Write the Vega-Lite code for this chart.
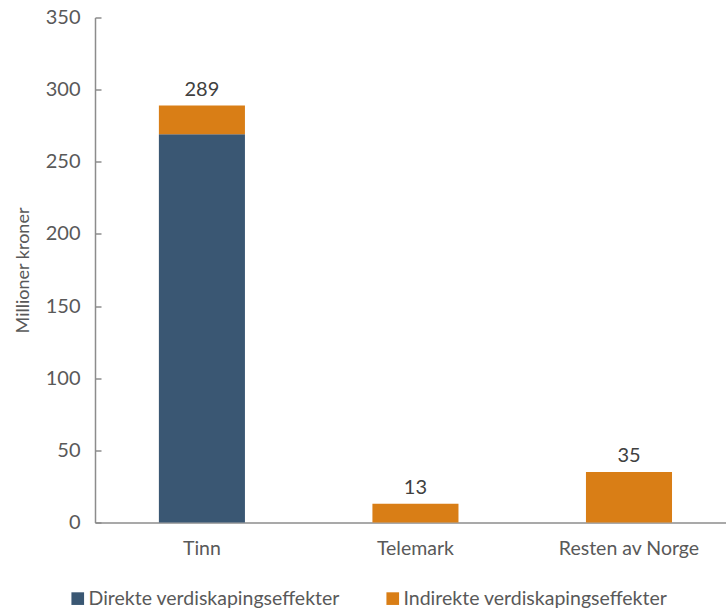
{
  "$schema": "https://vega.github.io/schema/vega-lite/v6.json",
  "width": 631,
  "height": 505,
  "autosize": {"type": "none"},
  "padding": {"left": 95, "top": 17.5, "right": 0, "bottom": 87.5},
  "background": "white",
  "config": {
    "view": {"stroke": null},
    "font": "Lato",
    "axis": {
      "labelColor": "#595959",
      "titleColor": "#595959",
      "domainColor": "#8c8c8c",
      "tickColor": "#8c8c8c",
      "domainWidth": 1.5,
      "tickWidth": 1.5,
      "grid": false,
      "labelFont": "Lato",
      "titleFont": "Lato",
      "titleFontWeight": "normal"
    }
  },
  "data": {
    "values": [
      {"region": "Tinn", "effect": "Direkte verdiskapingseffekter", "value": 269},
      {"region": "Tinn", "effect": "Indirekte verdiskapingseffekter", "value": 20},
      {"region": "Telemark", "effect": "Indirekte verdiskapingseffekter", "value": 13},
      {"region": "Resten av Norge", "effect": "Indirekte verdiskapingseffekter", "value": 35}
    ]
  },
  "layer": [
    {
      "mark": {"type": "bar"},
      "encoding": {
        "x": {
          "field": "region",
          "type": "nominal",
          "sort": ["Tinn", "Telemark", "Resten av Norge"],
          "scale": {"paddingInner": 0.597, "paddingOuter": 0.276, "align": 0.542},
          "axis": {
            "title": null,
            "ticks": false,
            "labelAngle": 0,
            "labelFontSize": 19.5,
            "labelPadding": 17
          }
        },
        "y": {
          "field": "value",
          "type": "quantitative",
          "stack": "zero",
          "scale": {"domain": [0, 350], "nice": false},
          "axis": {
            "title": "Millioner kroner",
            "titleFontSize": 18,
            "titlePadding": 13,
            "values": [0, 50, 100, 150, 200, 250, 300, 350],
            "labelFontSize": 20,
            "tickSize": -6,
            "labelPadding": 21
          }
        },
        "order": {"field": "effect", "type": "nominal", "sort": "ascending"},
        "color": {
          "field": "effect",
          "type": "nominal",
          "scale": {
            "domain": ["Direkte verdiskapingseffekter", "Indirekte verdiskapingseffekter"],
            "range": ["#3a5773", "#d97e16"]
          },
          "legend": {
            "title": null,
            "orient": "none",
            "legendX": -27,
            "legendY": 571,
            "direction": "horizontal",
            "symbolType": "square",
            "symbolSize": 160,
            "symbolStrokeWidth": 0,
            "labelFontSize": 19.5,
            "labelColor": "#595959",
            "labelOffset": 1,
            "labelLimit": 400,
            "columnPadding": 43,
            "padding": 0
          }
        }
      }
    },
    {
      "transform": [
        {"aggregate": [{"op": "sum", "field": "value", "as": "total"}], "groupby": ["region"]}
      ],
      "mark": {"type": "text", "baseline": "alphabetic", "dy": -10, "fontSize": 20, "color": "#404040"},
      "encoding": {
        "x": {"field": "region", "type": "nominal", "sort": ["Tinn", "Telemark", "Resten av Norge"]},
        "y": {"field": "total", "type": "quantitative"},
        "text": {"field": "total", "type": "quantitative"}
      }
    }
  ]
}
